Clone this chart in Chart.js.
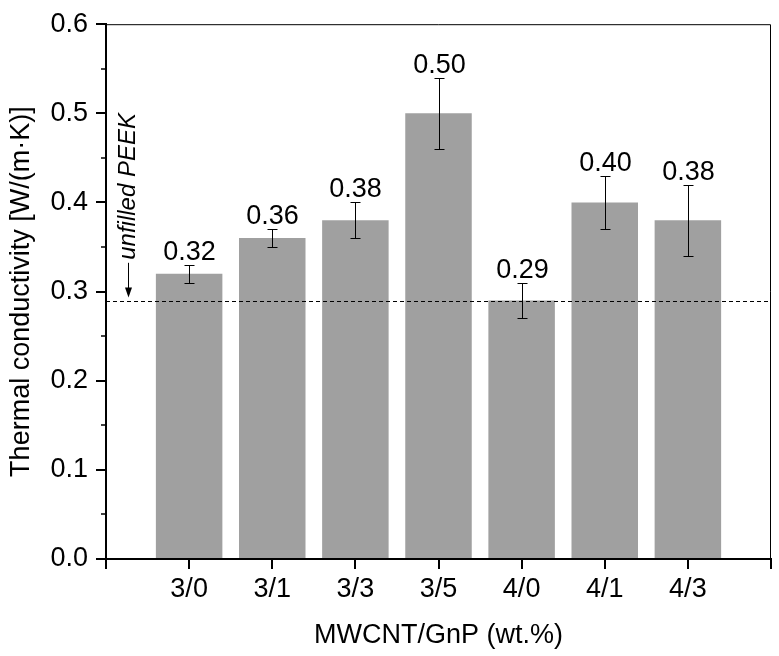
<!DOCTYPE html>
<html lang="en">
<head>
<meta charset="UTF-8">
<title>Thermal conductivity</title>
<script src="https://cdn.jsdelivr.net/npm/chart.js"></script>
<style>
  html, body { margin: 0; padding: 0; background: #fff; }
  #wrap { width: 779px; height: 656px; }
</style>
</head>
<body>
<div id="wrap"><canvas id="myChart"></canvas></div>
<script>
// values
const categories = ['3/0', '3/1', '3/3', '3/5', '4/0', '4/1', '4/3'];
const conductivity = [0.32, 0.36, 0.38, 0.50, 0.29, 0.40, 0.38];
const errors = [0.01, 0.01, 0.02, 0.04, 0.02, 0.03, 0.04];
const peekValue = 0.29; // unfilled PEEK
const minorTicks = [0.05, 0.15, 0.25, 0.35, 0.45, 0.55];

// one empty slot on each side, like the original axis
const labels = [''].concat(categories, ['']);
const values = [null].concat(conductivity, [null]);
const errs = [null].concat(errors, [null]);

const FONT = 'Arial, "Liberation Sans", sans-serif';
const SIZE = 27;
Chart.defaults.font.family = FONT;
Chart.defaults.color = '#000';

// error bars, value labels, reference line, frame and annotation
const extras = {
  id: 'extras',
  afterDatasetsDraw(chart) {
    const ctx = chart.ctx;
    const x = chart.scales.x, y = chart.scales.y;
    const area = chart.chartArea;
    ctx.save();
    ctx.strokeStyle = '#000';
    ctx.fillStyle = '#000';
    ctx.lineWidth = 1;
    ctx.font = SIZE + 'px ' + FONT;
    ctx.textAlign = 'center';
    ctx.textBaseline = 'alphabetic';
    values.forEach((v, i) => {
      if (v === null) return;
      const px = Math.round(x.getPixelForValue(i)) + 0.5;
      const top = Math.round(y.getPixelForValue(v + errs[i])) + 0.5;
      const bot = Math.round(y.getPixelForValue(v - errs[i])) + 0.5;
      ctx.beginPath();
      ctx.moveTo(px, top); ctx.lineTo(px, bot);
      ctx.moveTo(px - 5, top); ctx.lineTo(px + 5, top);
      ctx.moveTo(px - 5, bot); ctx.lineTo(px + 5, bot);
      ctx.stroke();
      ctx.fillText(v.toFixed(2), px, top - 6);
    });

    // dashed line for unfilled PEEK
    const py = Math.round(y.getPixelForValue(peekValue)) + 0.5;
    ctx.setLineDash([4, 3]);
    ctx.beginPath();
    ctx.moveTo(area.left, py);
    ctx.lineTo(area.right, py);
    ctx.stroke();
    ctx.setLineDash([]);

    // thin top and right frame
    ctx.beginPath();
    ctx.moveTo(area.left, area.top + 0.5);
    ctx.lineTo(area.right - 0.5, area.top + 0.5);
    ctx.lineTo(area.right - 0.5, area.bottom);
    ctx.stroke();

    // minor y ticks
    ctx.lineWidth = 1.5;
    minorTicks.forEach(t => {
      const ty = Math.round(y.getPixelForValue(t));
      ctx.beginPath();
      ctx.moveTo(area.left - 5, ty);
      ctx.lineTo(area.left, ty);
      ctx.stroke();
    });

    // "unfilled PEEK" with arrow
    const unit = x.getPixelForValue(1) - x.getPixelForValue(0);
    const ax = Math.round(x.getPixelForValue(0) + 0.27 * unit) + 0.5;
    const mid = y.getPixelForValue(0.418);
    ctx.font = 'italic 24px ' + FONT;
    const tw = ctx.measureText('unfilled PEEK').width;
    ctx.save();
    ctx.translate(ax, mid);
    ctx.rotate(-Math.PI / 2);
    ctx.textAlign = 'center';
    ctx.textBaseline = 'middle';
    ctx.fillText('unfilled PEEK', 0, 0);
    ctx.restore();
    const tip = py - 4;
    ctx.lineWidth = 1;
    ctx.beginPath();
    ctx.moveTo(ax, mid + tw / 2 + 3);
    ctx.lineTo(ax, tip - 8);
    ctx.stroke();
    ctx.beginPath();
    ctx.moveTo(ax - 3.5, tip - 10);
    ctx.lineTo(ax + 3.5, tip - 10);
    ctx.lineTo(ax, tip);
    ctx.closePath();
    ctx.fill();
    ctx.restore();
  }
};

const ctx = document.getElementById('myChart').getContext('2d');
const myChart = new Chart(ctx, {
  type: 'bar',
  data: {
    labels: labels,
    datasets: [{
      label: 'Thermal conductivity',
      data: values,
      backgroundColor: '#a0a0a0',
      borderWidth: 0,
      categoryPercentage: 0.8,
      barPercentage: 1.0
    }]
  },
  options: {
    responsive: true,
    maintainAspectRatio: false,
    animation: false,
    layout: { padding: { top: 19, right: 8, left: 0, bottom: 0 } },
    plugins: {
      legend: { display: false },
      tooltip: { enabled: false }
    },
    scales: {
      x: {
        offset: false,
        grid: {
          offset: false,
          drawOnChartArea: false,
          drawTicks: true,
          tickLength: 10,
          color: '#000',
          lineWidth: 2
        },
        border: { display: true, color: '#000', width: 2 },
        ticks: {
          color: '#000',
          font: { size: SIZE },
          padding: 4,
          maxRotation: 0,
          autoSkip: false
        },
        title: {
          display: true,
          text: 'MWCNT/GnP (wt.%)',
          color: '#000',
          font: { size: SIZE },
          padding: { top: 0, bottom: 4 }
        },
        afterFit(scale) { scale.height = 97; }
      },
      y: {
        min: 0,
        max: 0.6,
        grid: {
          drawOnChartArea: false,
          drawTicks: true,
          tickLength: 10,
          color: '#000',
          lineWidth: 2
        },
        border: { display: true, color: '#000', width: 2 },
        ticks: {
          stepSize: 0.1,
          color: '#000',
          font: { size: SIZE },
          padding: 8,
          callback: v => v.toFixed(1)
        },
        title: {
          display: true,
          text: 'Thermal conductivity [W/(m·K)]',
          color: '#000',
          font: { size: SIZE },
          padding: { top: 5, bottom: 0 }
        },
        afterFit(scale) { scale.width = 106; }
      }
    }
  },
  plugins: [extras]
});
</script>
</body>
</html>
